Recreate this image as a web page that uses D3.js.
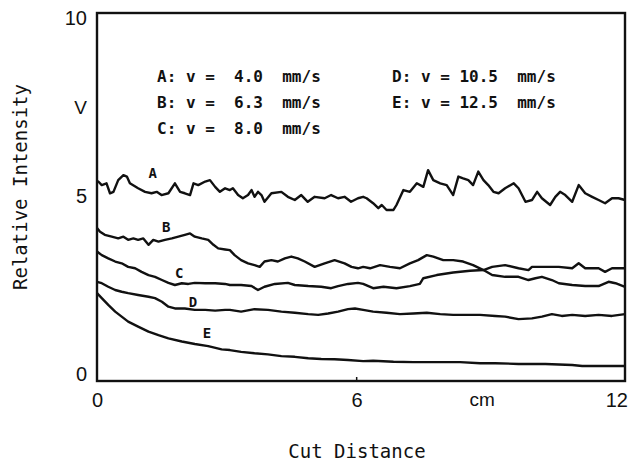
<!DOCTYPE html>
<html><head><meta charset="utf-8">
<script src="https://cdn.jsdelivr.net/npm/d3@7"></script>
<style>
html,body{margin:0;padding:0;background:#fff;}
svg{display:block;}
</style></head>
<body>
<svg id="chart" width="628" height="463"></svg>
<script>
// ---- data ----
const seriesNames = ["A","B","C","D","E"];
const legendLines = ["A: v =  4.0  mm/s","B: v =  6.3  mm/s","C: v =  8.0  mm/s","D: v = 10.5  mm/s","E: v = 12.5  mm/s"];
const xTicks = [0, 6, 12];
const yTicks = [0, 5, 10];
const xUnit = "cm";
const yUnit = "V";
const xTitle = "Cut Distance";
const yTitle = "Relative Intensity";

const seriesA = [[0,5.40],[0.03,5.41],[0.11,5.31],[0.22,5.36],[0.30,5.08],[0.38,5.12],[0.49,5.45],[0.61,5.59],[0.69,5.55],[0.76,5.36],[0.95,5.22],[1.11,5.12],[1.26,5.08],[1.38,5.12],[1.49,5.03],[1.65,5.08],[1.80,5.36],[1.92,5.12],[2.03,5.08],[2.15,5.03],[2.23,5.36],[2.34,5.31],[2.50,5.41],[2.61,5.45],[2.73,5.26],[2.84,5.12],[2.96,5.22],[3.07,5.17],[3.14,5.22],[3.26,5.03],[3.37,4.94],[3.49,5.03],[3.57,5.17],[3.64,4.98],[3.72,5.12],[3.80,5.03],[3.87,4.84],[4.03,5.08],[4.26,5.12],[4.41,4.98],[4.57,4.89],[4.72,5.03],[4.87,4.84],[5.03,4.98],[5.26,4.94],[5.41,5.03],[5.57,4.94],[5.72,4.98],[5.87,4.84],[6.03,4.94],[6.15,4.98],[6.23,4.94],[6.38,4.80],[6.50,4.66],[6.58,4.75],[6.69,4.61],[6.85,4.61],[6.92,4.75],[7.08,5.17],[7.23,5.12],[7.39,5.36],[7.54,5.26],[7.65,5.73],[7.77,5.45],[7.93,5.36],[8.08,5.31],[8.23,5.03],[8.35,5.55],[8.46,5.50],[8.58,5.45],[8.69,5.31],[8.81,5.69],[8.93,5.45],[9.04,5.31],[9.16,5.12],[9.28,5.08],[9.43,5.22],[9.63,5.36],[9.74,5.22],[9.90,4.84],[10.05,4.89],[10.17,5.12],[10.28,4.94],[10.47,4.75],[10.59,4.98],[10.70,5.12],[10.82,5.03],[10.98,4.84],[11.13,5.31],[11.28,5.08],[11.44,4.98],[11.59,4.89],[11.74,4.80],[11.90,4.94],[12.05,4.94],[12.20,4.89]];

const seriesB = [[0,4.10],[0.07,4.00],[0.18,3.91],[0.34,3.86],[0.49,3.81],[0.61,3.86],[0.72,3.77],[0.84,3.81],[0.95,3.77],[1.07,3.81],[1.19,3.63],[1.30,3.77],[1.42,3.72],[1.57,3.77],[1.73,3.81],[1.88,3.86],[2.03,3.91],[2.15,3.95],[2.26,3.86],[2.42,3.81],[2.57,3.77],[2.69,3.63],[2.80,3.53],[2.96,3.50],[3.07,3.48],[3.18,3.34],[3.33,3.20],[3.49,3.11],[3.64,3.06],[3.76,3.01],[3.87,3.16],[4.03,3.20],[4.18,3.16],[4.34,3.25],[4.49,3.30],[4.64,3.25],[4.80,3.16],[5.03,3.01],[5.26,3.11],[5.49,3.20],[5.72,3.11],[5.88,3.01],[6.03,2.97],[6.15,3.01],[6.31,2.97],[6.54,3.06],[6.77,3.01],[7.00,2.97],[7.23,3.11],[7.42,3.20],[7.62,3.34],[7.77,3.30],[8.00,3.20],[8.23,3.20],[8.46,3.16],[8.69,3.06],[8.93,2.92],[9.13,2.78],[9.43,2.73],[9.74,2.73],[9.97,2.64],[10.13,2.69],[10.28,2.73],[10.51,2.64],[10.67,2.55],[10.98,2.50],[11.28,2.47],[11.59,2.47],[11.82,2.59],[11.98,2.55],[12.20,2.45]];

const seriesC = [[0,3.44],[0.11,3.34],[0.26,3.25],[0.42,3.16],[0.57,3.11],[0.72,3.01],[0.88,2.97],[1.03,2.87],[1.19,2.78],[1.34,2.73],[1.50,2.64],[1.65,2.56],[1.80,2.50],[1.96,2.55],[2.11,2.53],[2.26,2.56],[2.50,2.55],[2.73,2.55],[2.96,2.53],[3.07,2.50],[3.33,2.50],[3.57,2.47],[3.72,2.36],[3.87,2.45],[4.11,2.53],[4.41,2.56],[4.57,2.50],[4.88,2.47],[5.18,2.45],[5.41,2.41],[5.57,2.47],[5.80,2.53],[6.03,2.56],[6.15,2.53],[6.38,2.41],[6.62,2.45],[6.92,2.41],[7.23,2.47],[7.46,2.53],[7.54,2.69],[7.85,2.78],[8.23,2.85],[8.62,2.90],[8.93,2.92],[9.13,3.01],[9.43,3.06],[9.74,2.97],[9.97,2.92],[10.05,3.01],[10.36,3.01],[10.67,3.01],[10.98,2.97],[11.13,3.11],[11.28,2.97],[11.59,2.97],[11.74,2.87],[11.90,2.97],[12.20,2.97]];

const seriesD = [[0,2.59],[0.11,2.55],[0.26,2.45],[0.42,2.36],[0.57,2.31],[0.72,2.27],[0.95,2.22],[1.19,2.17],[1.34,2.13],[1.50,2.03],[1.65,1.89],[1.80,1.84],[2.03,1.84],[2.26,1.80],[2.50,1.80],[2.73,1.78],[2.96,1.80],[3.07,1.80],[3.33,1.75],[3.64,1.82],[3.95,1.80],[4.26,1.75],[4.57,1.72],[4.88,1.68],[5.11,1.66],[5.34,1.70],[5.57,1.75],[5.80,1.82],[5.96,1.84],[6.15,1.80],[6.38,1.75],[6.69,1.72],[7.00,1.68],[7.31,1.70],[7.62,1.72],[7.93,1.68],[8.23,1.66],[8.54,1.66],[8.85,1.66],[9.20,1.63],[9.43,1.61],[9.74,1.54],[10.05,1.56],[10.28,1.61],[10.51,1.68],[10.74,1.63],[10.98,1.66],[11.28,1.63],[11.59,1.66],[11.90,1.63],[12.20,1.68]];

const seriesE = [[0,2.27],[0.11,2.13],[0.26,1.94],[0.42,1.75],[0.57,1.61],[0.72,1.47],[0.95,1.33],[1.19,1.19],[1.42,1.09],[1.65,1.00],[1.96,0.91],[2.26,0.84],[2.57,0.78],[2.88,0.69],[3.07,0.67],[3.33,0.62],[3.64,0.58],[3.95,0.55],[4.26,0.50],[4.57,0.48],[4.88,0.44],[5.18,0.42],[5.49,0.41],[5.80,0.39],[6.15,0.36],[6.38,0.37],[6.85,0.34],[7.31,0.33],[7.85,0.33],[8.39,0.33],[8.85,0.30],[9.20,0.30],[9.74,0.28],[10.36,0.28],[10.98,0.25],[11.21,0.22],[11.59,0.22],[12.20,0.22]];

// curve label anchor points (data units)
const labelX = [1.29, 1.60, 1.90, 2.22, 2.54];
const labelY = [5.65, 4.13, 2.84, 2.03, 1.14];

// ---- drawing ----
const svg = d3.select("#chart");
const x = d3.scaleLinear().domain([0, 12.2]).range([97, 625]);
const y = d3.scaleLinear().domain([-0.2, 10.15]).range([381, 13]);

const allSeries = [seriesA, seriesB, seriesC, seriesD, seriesE];
const line = d3.line().x(d => x(d[0])).y(d => y(d[1]));

svg.selectAll("path.curve").data(allSeries).join("path")
  .attr("class","curve")
  .attr("d", line)
  .attr("fill","none")
  .attr("stroke","#111")
  .attr("stroke-width", 2.4)
  .attr("stroke-linejoin","round");

// frame
svg.append("rect")
  .attr("x", x.range()[0]).attr("y", y.range()[1])
  .attr("width", x.range()[1]-x.range()[0])
  .attr("height", y.range()[0]-y.range()[1])
  .attr("fill","none").attr("stroke","#111").attr("stroke-width",2.4);

// axes
const xAxis = d3.axisBottom(x).tickValues(xTicks).tickSize(0).tickPadding(12).tickFormat(d3.format("d"));
const gx = svg.append("g").attr("transform",`translate(0,${y.range()[0]})`).call(xAxis);
gx.select(".domain").remove();
gx.selectAll("text").attr("font-family","'Liberation Sans', Arial, sans-serif").attr("font-size",20).attr("fill","#111");

const yAxis = d3.axisLeft(y).tickValues(yTicks).tickSize(0).tickPadding(10).tickFormat(d3.format("d"));
const gy = svg.append("g").attr("transform",`translate(${x.range()[0]},0)`).call(yAxis);
gy.select(".domain").remove();
gy.selectAll("text").attr("font-family","'Liberation Sans', Arial, sans-serif").attr("font-size",20).attr("fill","#111");

// small inner tick at x = 6
svg.append("line")
  .attr("x1", x(6)).attr("x2", x(6))
  .attr("y1", y.range()[0]).attr("y2", y.range()[0]-4)
  .attr("stroke","#111").attr("stroke-width",1.5);

// unit labels
svg.append("text").attr("x", x.range()[0]-10).attr("y", y(7.5)).attr("dy","0.35em")
  .attr("text-anchor","end").attr("font-family","'Liberation Sans', Arial, sans-serif")
  .attr("font-size",19).attr("fill","#111").text(yUnit);
svg.append("text").attr("x", x(8.9)).attr("y", y.range()[0]+12).attr("dy","0.71em")
  .attr("text-anchor","middle").attr("font-family","'Liberation Sans', Arial, sans-serif")
  .attr("font-size",19).attr("fill","#111").text(xUnit);

// axis titles
svg.append("text").attr("x", 357).attr("y", 458)
  .attr("text-anchor","middle").attr("font-family","'DejaVu Sans Mono', monospace")
  .attr("font-size",19).attr("fill","#111").text(xTitle);
svg.append("text").attr("transform","translate(27,187) rotate(-90)")
  .attr("text-anchor","middle").attr("font-family","'DejaVu Sans Mono', monospace")
  .attr("font-size",19).attr("fill","#111").text(yTitle);

// legend block
const legendX = [157, 157, 157, 392, 392];
const legendY = [82, 108, 134, 82, 108];
svg.selectAll("text.leg").data(legendLines).join("text")
  .attr("class","leg")
  .attr("x",(d,i)=>legendX[i]).attr("y",(d,i)=>legendY[i])
  .attr("font-family","'DejaVu Sans Mono', monospace")
  .attr("font-weight","bold")
  .attr("font-size",16).attr("fill","#111")
  .style("white-space","pre")
  .text(d=>d);

// curve letters
svg.selectAll("text.clab").data(seriesNames).join("text")
  .attr("class","clab")
  .attr("x",(d,i)=>x(labelX[i])).attr("y",(d,i)=>y(labelY[i]))
  .attr("dy","0.35em").attr("text-anchor","middle")
  .attr("font-family","'DejaVu Sans Mono', monospace")
  .attr("font-weight","bold")
  .attr("font-size",14).attr("fill","#111")
  .text(d=>d);
</script>
</body></html>
